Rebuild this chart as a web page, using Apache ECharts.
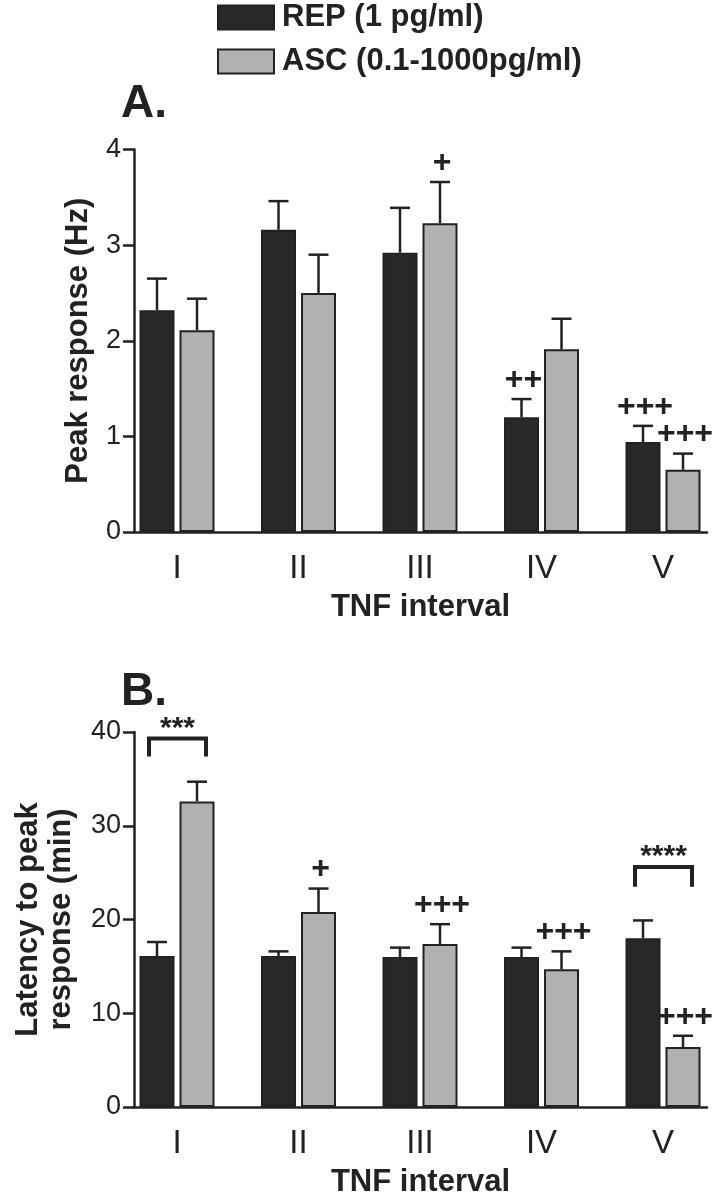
<!DOCTYPE html>
<html><head><meta charset="utf-8">
<script src="https://cdn.jsdelivr.net/npm/echarts@6/dist/echarts.min.js"></script>
<style>html,body{margin:0;padding:0;background:#fff}#c{width:719px;height:1199px}</style>
</head><body><div id="c"></div>
<script>
// ---------- data ----------
const categories = ['I', 'II', 'III', 'IV', 'V'];
const seriesNames = ['REP (1 pg/ml)', 'ASC (0.1-1000pg/ml)'];
const peakRep = [2.32, 3.16, 2.92, 1.20, 0.94];
const peakRepErr = [0.33, 0.30, 0.47, 0.19, 0.17];
const peakAsc = [2.11, 2.50, 3.23, 1.91, 0.65];
const peakAscErr = [0.33, 0.40, 0.43, 0.32, 0.17];
const latRep = [16.1, 16.1, 16.0, 16.0, 18.0];
const latRepErr = [1.5, 0.5, 1.0, 1.0, 1.9];
const latAsc = [32.6, 20.8, 17.4, 14.7, 6.4];
const latAscErr = [2.1, 2.5, 2.1, 1.9, 1.2];
const peakRepMarks = ['', '', '', '++', '+++'];
const peakAscMarks = ['', '', '+', '', '+++'];
const latRepMarks = ['', '', '', '', ''];
const latAscMarks = ['', '+', '+++', '+++', '+++'];
const latBrackets = [[0, 39.3, 37.4, '***'], [4, 25.6, 23.5, '****']];
const peakTicks = [0, 1, 2, 3, 4];
const latTicks = [0, 10, 20, 30, 40];
const yNames = ['Peak response (Hz)', 'Latency to peak\nresponse (min)'];
const xName = 'TNF interval';
const panelTitles = ['A.', 'B.'];

// ---------- style / layout ----------
const FONT = 'Liberation Sans, Arial, Helvetica, sans-serif';
const INK = '#222';
const BAR_W = 35, BAR_GAP = 5;
const HALF = (BAR_W + BAR_GAP) / 2;
const X_MIN = -0.354, X_MAX = 4.362;
const grids = [
  { left: 134, top: 149.5, width: 573, height: 382.5 },
  { left: 134, top: 732, width: 573, height: 384 }
];

function pairs(vals) { return vals.map((v, i) => [i, v]); }

function errSeries(g, means, errs, marks, side) {
  return {
    type: 'custom', xAxisIndex: g, yAxisIndex: g, z: 5, silent: true, clip: false,
    data: means.map((m, i) => [i, m, errs[i]]),
    renderItem(params, api) {
      const i = api.value(0), m = api.value(1), e = api.value(2);
      const mark = marks[params.dataIndex];
      const base = api.coord([i, m]);
      const top = api.coord([i, m + e]);
      const x = base[0] + side * HALF;
      const ch = [
        { type: 'line', shape: { x1: x, y1: base[1], x2: x, y2: top[1] }, style: { stroke: INK, lineWidth: 2.5 } },
        { type: 'line', shape: { x1: x - 10, y1: top[1], x2: x + 10, y2: top[1] }, style: { stroke: INK, lineWidth: 2.5 } }
      ];
      if (mark) ch.push({ type: 'text', style: { text: mark, x: x + 2, y: top[1] - 19, fill: INK, font: 'bold 32px ' + FONT, align: 'center', verticalAlign: 'middle' } });
      return { type: 'group', children: ch };
    }
  };
}

const bracketSeries = {
  type: 'custom', xAxisIndex: 1, yAxisIndex: 1, z: 5, silent: true, clip: false,
  data: latBrackets.map(b => [b[0], b[1], b[2]]),
  renderItem(params, api) {
    const i = api.value(0);
    const p = api.coord([i, api.value(1)]);
    const q = api.coord([i, api.value(2)]);
    const x1 = p[0] - HALF - 8, x2 = p[0] + HALF + 9;
    return { type: 'group', children: [
      { type: 'polyline', shape: { points: [[x1, q[1]], [x1, p[1]], [x2, p[1]], [x2, q[1]]] }, style: { stroke: INK, lineWidth: 4, fill: null } },
      { type: 'text', style: { text: latBrackets[params.dataIndex][3], x: (x1 + x2) / 2, y: p[1] - 10, fill: INK, font: 'bold 30px ' + FONT, align: 'center', verticalAlign: 'middle' } }
    ] };
  }
};

function xAxis(g) {
  return {
    gridIndex: g, type: 'value', min: X_MIN, max: X_MAX,
    axisLine: { show: true, onZero: false, lineStyle: { color: INK, width: 2.5 } },
    axisTick: { show: false }, splitLine: { show: false },
    axisLabel: { customValues: [0, 1, 2, 3, 4], formatter: v => categories[Math.round(v)], fontSize: 33, fontFamily: FONT, color: INK, margin: 20 },
    name: xName, nameLocation: 'middle', nameGap: 60,
    nameTextStyle: { fontSize: 31, fontWeight: 'bold', fontFamily: FONT, color: INK }
  };
}
function yAxis(g, ticks) {
  return {
    gridIndex: g, type: 'value', min: ticks[0], max: ticks[ticks.length - 1], interval: ticks[1] - ticks[0],
    axisLine: { show: true, onZero: false, lineStyle: { color: INK, width: 2.5 } },
    axisTick: { show: true, length: 11, lineStyle: { color: INK, width: 2.5 } },
    splitLine: { show: false },
    axisLabel: { fontSize: 27, fontFamily: FONT, color: INK, margin: 13 },
    name: yNames[g], nameLocation: 'middle', nameGap: g === 0 ? 34 : 56,
    nameTextStyle: { fontSize: 31, fontWeight: 'bold', fontFamily: FONT, color: INK, lineHeight: 33 }
  };
}

const barStyle = [
  { color: '#282828', borderColor: INK, borderWidth: 2 },
  { color: '#b1b1b1', borderColor: INK, borderWidth: 2 }
];
function bar(g, idx, vals) {
  return { type: 'bar', name: seriesNames[idx], xAxisIndex: g, yAxisIndex: g, data: pairs(vals),
    barWidth: BAR_W, barGap: (BAR_GAP / BAR_W * 100) + '%', itemStyle: barStyle[idx], silent: true };
}

const chart = echarts.init(document.getElementById('c'), null, { renderer: 'canvas' });
chart.setOption({
  animation: false,
  backgroundColor: '#fff',
  textStyle: { fontFamily: FONT },
  title: [
    { text: panelTitles[0], left: 116, top: 76, textStyle: { fontSize: 46, fontWeight: 'bold', color: INK, fontFamily: FONT } },
    { text: panelTitles[1], left: 116, top: 664, textStyle: { fontSize: 46, fontWeight: 'bold', color: INK, fontFamily: FONT } }
  ],
  legend: {
    orient: 'vertical', left: 212, top: -3, itemWidth: 56, itemHeight: 24, itemGap: 13,
    data: seriesNames, icon: 'rect',
    textStyle: { fontSize: 31, fontWeight: 'bold', color: INK, fontFamily: FONT, padding: [0, 0, 0, 3] }
  },
  grid: grids,
  xAxis: [xAxis(0), xAxis(1)],
  yAxis: [yAxis(0, peakTicks), yAxis(1, latTicks)],
  series: [
    bar(0, 0, peakRep), bar(0, 1, peakAsc),
    bar(1, 0, latRep), bar(1, 1, latAsc),
    errSeries(0, peakRep, peakRepErr, peakRepMarks, -1),
    errSeries(0, peakAsc, peakAscErr, peakAscMarks, 1),
    errSeries(1, latRep, latRepErr, latRepMarks, -1),
    errSeries(1, latAsc, latAscErr, latAscMarks, 1),
    bracketSeries
  ]
});
</script>
</body></html>
